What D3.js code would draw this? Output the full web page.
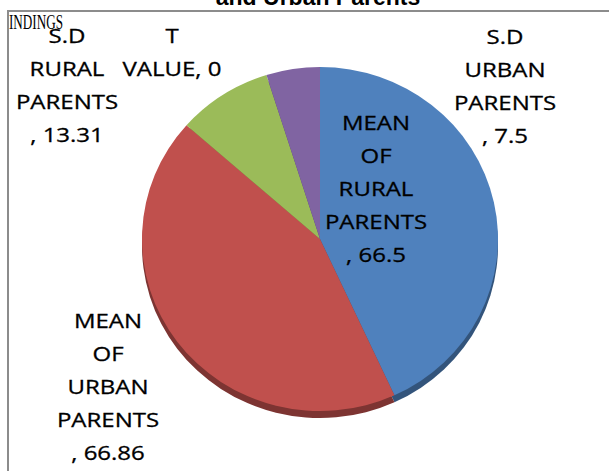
<!DOCTYPE html>
<html>
<head>
<meta charset="utf-8">
<script src="https://cdn.jsdelivr.net/npm/d3@7"></script>
<style>
body { margin: 0; background: #fff; }
</style>
</head>
<body>
<svg id="chart"></svg>
<script>
// data
var categories = ["MEAN OF RURAL PARENTS", "MEAN OF URBAN PARENTS", "S.D RURAL PARENTS", "S.D URBAN PARENTS", "T VALUE"];
var values = [66.5, 66.86, 13.31, 7.5, 0];
var colors = ["#4f81bd", "#c0504d", "#9bbb59", "#8064a2", "#4bacc6"];

var W = 609,
    H = 471;

var svg = d3.select("#chart")
    .attr("width", W)
    .attr("height", H);

// frame of the chart (only top and left visible)
svg.append("path")
    .attr("d", "M8," + H + " V11 H" + W)
    .attr("fill", "none")
    .attr("stroke", "#8c8c8c")
    .attr("stroke-width", 2);

// title, cut by the top of the picture
svg.append("text")
    .attr("x", 318)
    .attr("y", 5)
    .attr("text-anchor", "middle")
    .style("font-family", "'Liberation Sans', Arial, sans-serif")
    .style("font-weight", "bold")
    .style("font-size", "23px")
    .text("and Urban Parents");

// pie
var cx = 320, cy = 239, rx = 178, ry = 172, depth = 7;
var data = categories.map(function (c, i) { return {name: c, value: values[i], color: colors[i]}; });

var pie = d3.pie().sort(null).value(function (d) { return d.value; });
var arc = d3.arc().innerRadius(0).outerRadius(rx);
var arcs = pie(data);

// side of the 3d pie
var sideG = svg.append("g")
    .attr("transform", "translate(" + cx + "," + (cy + depth) + ") scale(1," + (ry / rx) + ")");
sideG.selectAll("path").data(arcs).enter().append("path")
    .attr("d", arc)
    .attr("fill", function (d) { return d3.color(d.data.color).darker(1.2); });

var faceG = svg.append("g")
    .attr("transform", "translate(" + cx + "," + cy + ") scale(1," + (ry / rx) + ")");
faceG.selectAll("path").data(arcs).enter().append("path")
    .attr("d", arc)
    .attr("fill", function (d) { return d.data.color; });

// labels
var labelAt = [[376, 130], [108, 328], [67, 43], [505, 44], [172, 43]];
var lineH = 33;

function labelLines(name, v) {
    var lines = name.split(" ");
    var last = lines.pop();
    if (last.length < 6) lines.push(last + ", " + v);
    else lines.push(last, ", " + v);
    return lines;
}

var labels = svg.append("g").selectAll("g").data(data).enter().append("g")
    .attr("transform", function (d, i) {
        return "translate(" + labelAt[i][0] + "," + labelAt[i][1] + ") scale(1.2,1)";
    });
labels.append("text")
    .attr("text-anchor", "middle")
    .style("font-family", "'Open Sans', sans-serif")
    .style("font-size", "20px")
    .attr("fill", "#000")
    .attr("stroke", "#000")
    .attr("stroke-width", 0.3)
    .each(function (d) {
        var t = d3.select(this);
        labelLines(d.name, d.value).forEach(function (l, k) {
            t.append("tspan").attr("x", 0).attr("y", k * lineH).text(l);
        });
    });

// stray text from the page behind
svg.append("text")
    .attr("x", 9)
    .attr("y", 29)
    .attr("textLength", 54)
    .attr("lengthAdjust", "spacingAndGlyphs")
    .style("font-family", "'Liberation Serif', serif")
    .style("font-size", "20px")
    .text("INDINGS");
</script>
</body>
</html>
